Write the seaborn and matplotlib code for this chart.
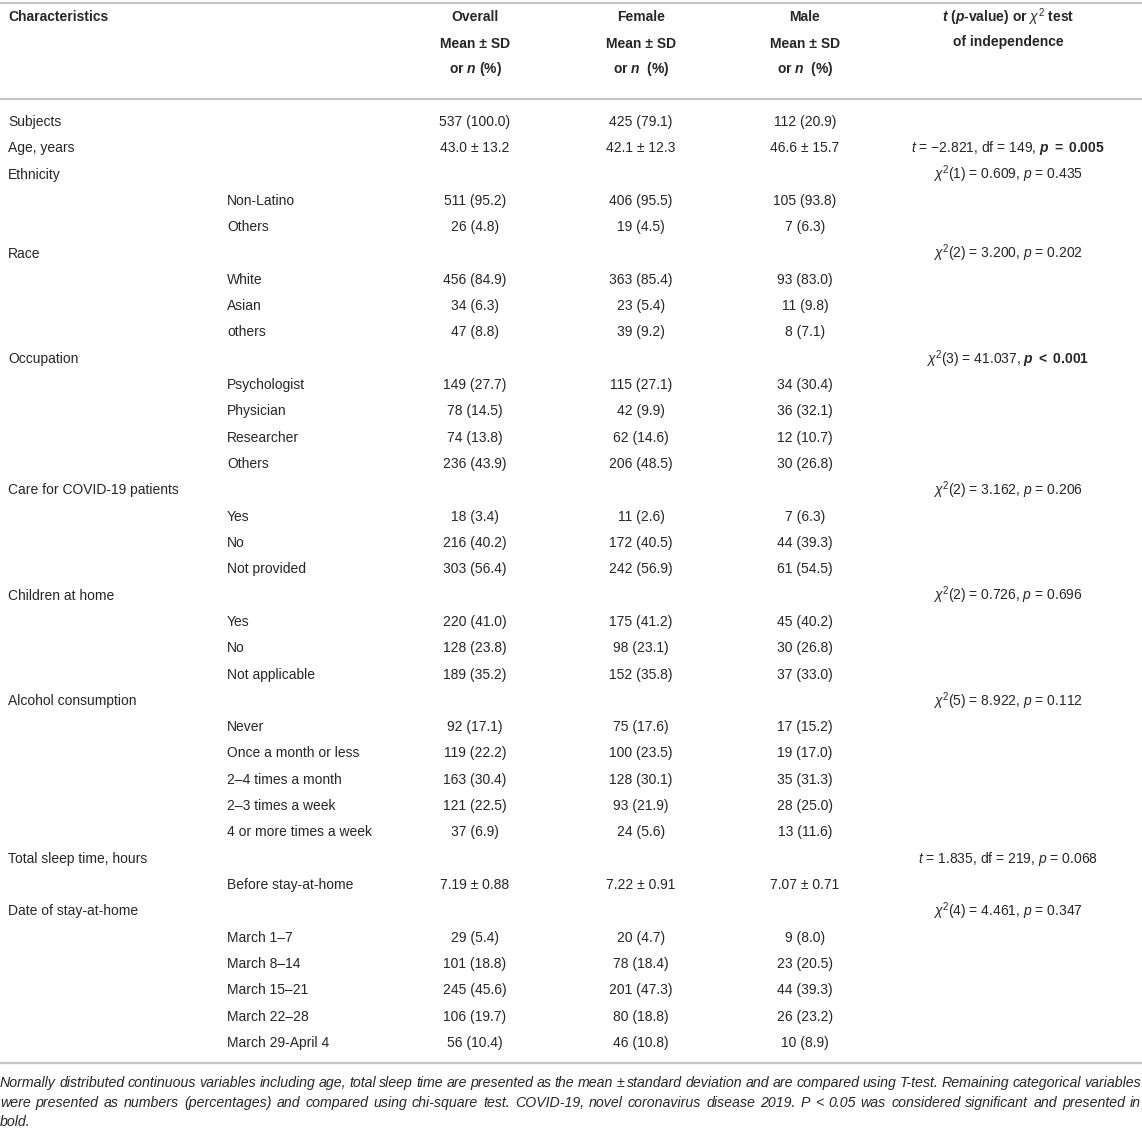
import matplotlib
matplotlib.use("Agg")
import matplotlib.pyplot as plt
import seaborn as sns

# table content, one entry per body row
characteristic = ["Subjects", "Age, years", "Ethnicity", "", "", "Race", "", "", "",
                  "Occupation", "", "", "", "",
                  "Care for COVID-19 patients", "", "", "",
                  "Children at home", "", "", "",
                  "Alcohol consumption", "", "", "", "", "",
                  "Total sleep time, hours", "",
                  "Date of stay-at-home", "", "", "", "", ""]
subgroup = ["", "", "", "Non-Latino", "Others", "", "White", "Asian", "others",
            "", "Psychologist", "Physician", "Researcher", "Others",
            "", "Yes", "No", "Not provided",
            "", "Yes", "No", "Not applicable",
            "", "Never", "Once a month or less", "2–4 times a month", "2–3 times a week", "4 or more times a week",
            "", "Before stay-at-home",
            "", "March 1–7", "March 8–14", "March 15–21", "March 22–28", "March 29-April 4"]
overall = ["537 (100.0)", "43.0 ± 13.2", "", "511 (95.2)", "26 (4.8)", "", "456 (84.9)", "34 (6.3)", "47 (8.8)",
           "", "149 (27.7)", "78 (14.5)", "74 (13.8)", "236 (43.9)",
           "", "18 (3.4)", "216 (40.2)", "303 (56.4)",
           "", "220 (41.0)", "128 (23.8)", "189 (35.2)",
           "", "92 (17.1)", "119 (22.2)", "163 (30.4)", "121 (22.5)", "37 (6.9)",
           "", "7.19 ± 0.88",
           "", "29 (5.4)", "101 (18.8)", "245 (45.6)", "106 (19.7)", "56 (10.4)"]
female = ["425 (79.1)", "42.1 ± 12.3", "", "406 (95.5)", "19 (4.5)", "", "363 (85.4)", "23 (5.4)", "39 (9.2)",
          "", "115 (27.1)", "42 (9.9)", "62 (14.6)", "206 (48.5)",
          "", "11 (2.6)", "172 (40.5)", "242 (56.9)",
          "", "175 (41.2)", "98 (23.1)", "152 (35.8)",
          "", "75 (17.6)", "100 (23.5)", "128 (30.1)", "93 (21.9)", "24 (5.6)",
          "", "7.22 ± 0.91",
          "", "20 (4.7)", "78 (18.4)", "201 (47.3)", "80 (18.8)", "46 (10.8)"]
male = ["112 (20.9)", "46.6 ± 15.7", "", "105 (93.8)", "7 (6.3)", "", "93 (83.0)", "11 (9.8)", "8 (7.1)",
        "", "34 (30.4)", "36 (32.1)", "12 (10.7)", "30 (26.8)",
        "", "7 (6.3)", "44 (39.3)", "61 (54.5)",
        "", "45 (40.2)", "30 (26.8)", "37 (33.0)",
        "", "17 (15.2)", "19 (17.0)", "35 (31.3)", "28 (25.0)", "13 (11.6)",
        "", "7.07 ± 0.71",
        "", "9 (8.0)", "23 (20.5)", "44 (39.3)", "26 (23.2)", "10 (8.9)"]
test_rows = [1, 2, 5, 9, 14, 18, 22, 28, 30]
test_text = [r"$t$ = −2.821, df = 149, $\mathbfit{p}\ \mathbf{=}\ \mathbf{0.005}$",
             r"$\chi^2$(1) = 0.609, $p$ = 0.435",
             r"$\chi^2$(2) = 3.200, $p$ = 0.202",
             r"$\chi^2$(3) = 41.037, $\mathbfit{p}\ \mathbf{<}\ \mathbf{0.001}$",
             r"$\chi^2$(2) = 3.162, $p$ = 0.206",
             r"$\chi^2$(2) = 0.726, $p$ = 0.696",
             r"$\chi^2$(5) = 8.922, $p$ = 0.112",
             r"$t$ = 1.835, df = 219, $p$ = 0.068",
             r"$\chi^2$(4) = 4.461, $p$ = 0.347"]
col_heads = ["Overall", "Female", "Male"]
footnote = ["Normally distributed continuous variables including age, total sleep time are presented as the mean ± standard deviation and are compared using T-test. Remaining categorical variables",
            "were presented as numbers (percentages) and compared using chi-square test. COVID-19, novel coronavirus disease 2019. P < 0.05 was considered significant and presented in",
            "bold."]

sns.set_theme(style="white")
plt.rcParams['font.family'] = ['Liberation Sans', 'DejaVu Sans']
plt.rcParams['mathtext.fontset'] = 'custom'
plt.rcParams['mathtext.rm'] = 'Liberation Sans'
plt.rcParams['mathtext.it'] = 'Liberation Sans:italic'
plt.rcParams['mathtext.bf'] = 'Liberation Sans:bold'
plt.rcParams['mathtext.bfit'] = 'Liberation Sans:italic:bold'

W, H = 1142, 1132
fig = plt.figure(figsize=(W / 100, H / 100), dpi=100)
ax = fig.add_axes([0, 0, 1, 1])
ax.set_xlim(0, W)
ax.set_ylim(H, 0)
ax.axis('off')

ink = '#262626'
rule = '#c4c4c4'
fs = 10

# rules
for yy in [3, 99, 1063]:
    ax.axhline(yy, color=rule, lw=1.6)

# header
col_x = [475, 641, 805]
test_x = 1008
ax.text(8, 17, "Characteristics", fontsize=fs, fontweight='bold', color=ink, va='center')
for cx, head in zip(col_x, col_heads):
    ax.text(cx, 17, head, fontsize=fs, fontweight='bold', color=ink, ha='center', va='center')
    ax.text(cx, 44, "Mean ± SD", fontsize=fs, fontweight='bold', color=ink, ha='center', va='center')
    sub = r"or $\mathbfit{n}$ (%)" if head == "Overall" else r"or $\mathbfit{n}$  (%)"
    ax.text(cx, 69, sub, fontsize=fs, fontweight='bold', color=ink, ha='center', va='center')
ax.text(test_x, 17, r"$\mathbfit{t}$ ($\mathbfit{p}$-value) or $\chi^2$ test", fontsize=fs,
        fontweight='bold', color=ink, ha='center', va='center')
ax.text(test_x, 42, "of independence", fontsize=fs, fontweight='bold', color=ink, ha='center', va='center')

# body
y0, dy = 122, 26.31
for i in range(len(characteristic)):
    y = y0 + i * dy
    if characteristic[i]:
        ax.text(8, y, characteristic[i], fontsize=fs, color=ink, va='center')
    if subgroup[i]:
        ax.text(227, y, subgroup[i], fontsize=fs, color=ink, va='center')
    for cx, vals in zip(col_x, [overall, female, male]):
        if vals[i]:
            ax.text(cx, y, vals[i], fontsize=fs, color=ink, ha='center', va='center')
for r, t in zip(test_rows, test_text):
    ax.text(test_x, y0 + r * dy, t, fontsize=fs, color=ink, ha='center', va='center')

# footnote, justified on full lines
fig.canvas.draw()
renderer = fig.canvas.get_renderer()
fn_y = [1083, 1103, 1122]
fn_fs = 10.2
for k, line in enumerate(footnote):
    words = line.split(" ")
    if k == len(footnote) - 1:
        ax.text(0, fn_y[k], line, fontsize=fn_fs, style='italic', color=ink, va='center')
        continue
    arts = [ax.text(0, fn_y[k], w_, fontsize=fn_fs, style='italic', color=ink, va='center') for w_ in words]
    widths = [a.get_window_extent(renderer).width for a in arts]
    gap = (W - 1 - sum(widths)) / (len(words) - 1)
    x = 0
    for a, wd in zip(arts, widths):
        a.set_x(x)
        x += wd + gap

fig.savefig("out.png", dpi=100)
